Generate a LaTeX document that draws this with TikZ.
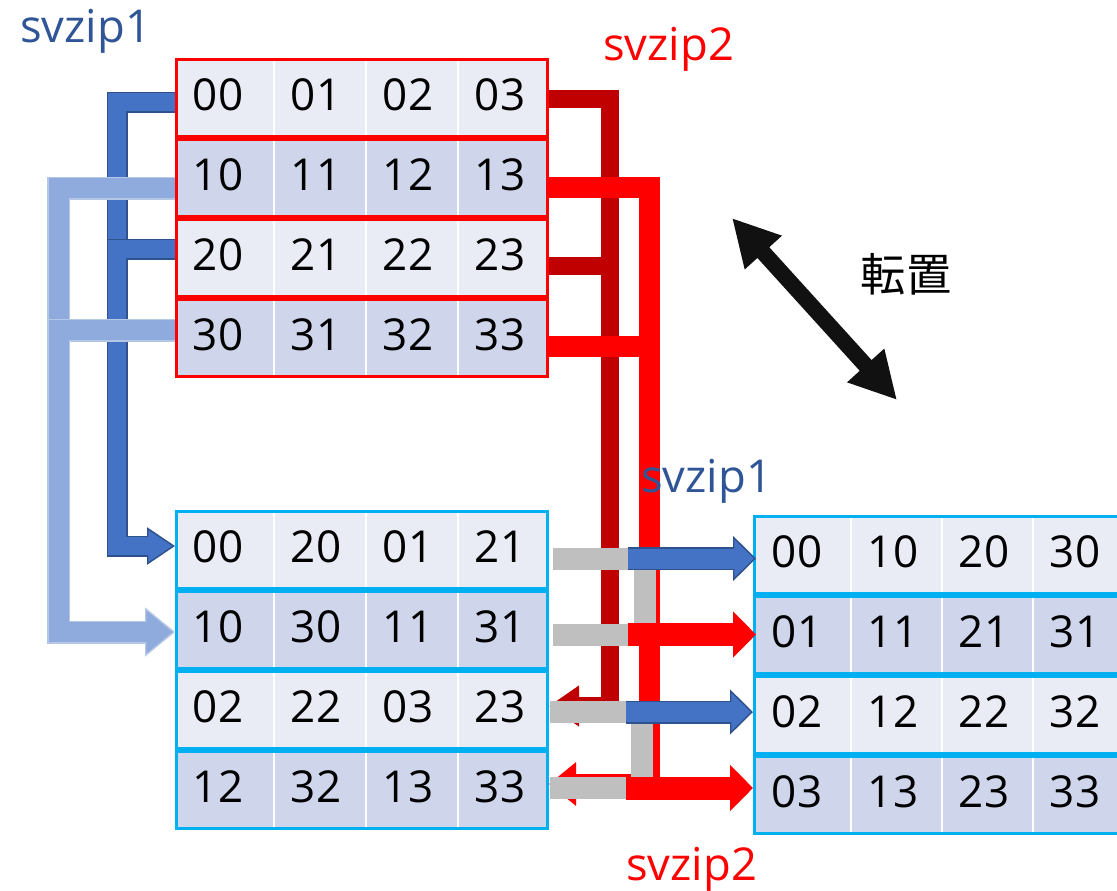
\documentclass[tikz,border=0pt]{standalone}
\usepackage{fontspec}
\setmainfont{Open Sans}
\newfontfamily\jpfont{Noto Sans CJK JP}
\usetikzlibrary{arrows.meta,calc}
\definecolor{cA}{HTML}{E9EBF5}
\definecolor{cB}{HTML}{CFD5EA}
\definecolor{cyanb}{HTML}{00B0F0}
\definecolor{dblue}{HTML}{4472C4}
\definecolor{dblueE}{HTML}{2F528F}
\definecolor{lblue}{HTML}{8FAADC}
\definecolor{lblueE}{HTML}{B4C7E7}
\definecolor{dred}{HTML}{C00000}
\definecolor{gry}{HTML}{BFBFBF}
\definecolor{lbl}{HTML}{2F5597}
\definecolor{blk}{HTML}{111111}
\tikzset{
  rowbox/.style={rectangle, line width=2.25pt, minimum width=278.25pt, minimum height=57.75pt, inner sep=0pt},
  num/.style={inner sep=0pt, font=\fontsize{33pt}{33pt}\selectfont, text=black},
  lab/.style={inner sep=0pt, anchor=base west, font=\fontsize{34pt}{34pt}\selectfont},
  dbOut/.style={draw=dblueE, line width=15.75pt},
  dbIn/.style={draw=dblue, line width=13.5pt},
  lbOut/.style={draw=lblueE, line width=17.25pt},
  lbIn/.style={draw=lblue, line width=15pt},
  drd/.style={draw=dred, line width=13.5pt},
  brd/.style={draw=red, line width=15.75pt},
  grybar/.style={draw=gry, line width=16.5pt},
  raOut/.style={draw=dblueE, line width=17.25pt},
  raIn/.style={draw=dblue, line width=15pt},
  rared/.style={draw=red, line width=17.25pt}
}
\newcommand\LMrow[8]{%
  \foreach \xa/\xb in {176.5/273,275/365,367/457,459/547.5}{\fill[#3] (\xa,#2-38.5) rectangle (\xb,#2+38.5);}
  \node[rowbox,draw=#4] (#1) at (362,#2) {};
  \node[num] (#1a) at (218,#2-3) {#5};
  \node[num] (#1b) at (316,#2-3) {#6};
  \node[num] (#1c) at (408,#2-3) {#7};
  \node[num] (#1d) at (500,#2-3) {#8};
}
\newcommand\RMrow[8]{%
  \foreach \xa/\xb in {754.5/850,852/941,943/1032,1034/1125.5}{\fill[#3] (\xa,#2-38.5) rectangle (\xb,#2+38.5);}
  \node[rowbox,draw=#4] (#1) at (940,#2) {};
  \node[num] (#1a) at (797,#2-3) {#5};
  \node[num] (#1b) at (893,#2-3) {#6};
  \node[num] (#1c) at (984,#2-3) {#7};
  \node[num] (#1d) at (1075,#2-3) {#8};
}
\begin{document}
\begin{tikzpicture}[x=0.75pt,y=-0.75pt]
\useasboundingbox (0,0) rectangle (1117,890);
\clip (0,0) rectangle (1117,890);
% matrices
\LMrow{t0}{98}{cA}{red}{00}{01}{02}{03}
\LMrow{t1}{178}{cB}{red}{10}{11}{12}{13}
\LMrow{t2}{258}{cA}{red}{20}{21}{22}{23}
\LMrow{t3}{338}{cB}{red}{30}{31}{32}{33}
\LMrow{b0}{550}{cA}{cyanb}{00}{20}{01}{21}
\LMrow{b1}{630}{cB}{cyanb}{10}{30}{11}{31}
\LMrow{b2}{710}{cA}{cyanb}{02}{22}{03}{23}
\LMrow{b3}{790}{cB}{cyanb}{12}{32}{13}{33}
\RMrow{r0}{555}{cA}{cyanb}{00}{10}{20}{30}
\RMrow{r1}{635}{cB}{cyanb}{01}{11}{21}{31}
\RMrow{r2}{715}{cA}{cyanb}{02}{12}{22}{32}
\RMrow{r3}{795}{cB}{cyanb}{03}{13}{23}{33}
% dark blue
\draw[dbOut, -{Triangle[length=21pt,width=28pt,line width=1.1pt,fill=dblue]}] ($(t0.west)+(0,4)$) -- ++(-58,0) |- ($(b0.west)+(0,-4)$);
\draw[dbIn, shorten >=19.5pt] ($(t0.west)+(0,4)$) -- ++(-58,0) |- ($(b0.west)+(0,-4)$);
\draw[dbOut] ($(t2.west)+(0,-9)$) -- ++(-58,0) -- ++(0,22);
\draw[dbIn] ($(t2.west)+(0,-9)$) -- ++(-58,0) -- ++(0,22);
% light blue
\draw[lbOut, -{Triangle[length=22.5pt,width=36.75pt,line width=1.1pt,fill=lblue]}] ($(t1.west)+(0,10)$) -- ++(-116.5,0) |- ($(b1.west)+(0,2)$);
\draw[lbIn, shorten >=21pt] ($(t1.west)+(0,10)$) -- ++(-116.5,0) |- ($(b1.west)+(0,2)$);
\draw[lbOut] ($(t3.west)+(0,-8)$) -- ++(-116.5,0) -- ++(0,24);
\draw[lbIn] ($(t3.west)+(0,-8)$) -- ++(-116.5,0) -- ++(0,24);
% dark red
\draw[drd, -{Triangle[length=22.5pt,width=29.25pt]}] ($(t0.east)+(0,1)$) -- ++(61,0) |- ($(b2.east)+(0,-4)$);
\draw[drd] ($(t2.east)+(0,8)$) -- ++(70,0);
% bright red
\draw[brd, -{Triangle[length=20.25pt,width=31.5pt]}] ($(t1.east)+(0,9.5)$) -- ++(100,0) |- ($(b3.east)+(0,-6)$);
\draw[brd] ($(t3.east)+(0,8)$) -- ++(110.5,0);
% gray
\draw[grybar] ($(b0.east)+(4,9)$) -- ++(92,0) |- ($(b1.east)+(4,4.5)$);
\draw[grybar] ($(b2.east)+(1,2)$) -- ++(92,0) |- ($(b3.east)+(1,-2)$);
% right arrows
\coordinate (g0) at ($(b0.east)+(79,8.5)$);
\coordinate (g1) at ($(b1.east)+(79,4.5)$);
\coordinate (g2) at ($(b2.east)+(77,2)$);
\coordinate (g3) at ($(b3.east)+(77,-2)$);
\draw[raOut, -{Triangle[length=17.25pt,width=33.75pt,line width=1.1pt,fill=dblue]}] (g0) -- ($(g0 -| r0.west)+(3,0)$);
\draw[raIn, shorten >=16pt] (g0) -- ($(g0 -| r0.west)+(3,0)$);
\draw[rared, -{Triangle[length=17.25pt,width=33.75pt]}] (g1) -- ($(g1 -| r1.west)+(3,0)$);
\draw[raOut, -{Triangle[length=17.25pt,width=33.75pt,line width=1.1pt,fill=dblue]}] (g2) -- (g2 -| r2.west);
\draw[raIn, shorten >=16pt] (g2) -- (g2 -| r2.west);
\draw[rared, -{Triangle[length=17.25pt,width=33.75pt]}] (g3) -- (g3 -| r3.west);
% transpose arrow
\coordinate (ta) at (732,218);
\coordinate (tb) at (897,400);
\draw[draw=blk, line width=12pt, {Triangle[length=35pt,width=35pt]}-{Triangle[length=35pt,width=35pt]}] (ta) -- (tb);
% labels
\node[lab, text=lbl] (l1) at (20,42) {svzip1};
\node[lab, text=red] (l2) at (603,60) {svzip2};
\node[lab, text=lbl] (l3) at (641,492) {svzip1};
\node[lab, text=red] (l4) at (626,880) {svzip2};
\node[inner sep=0pt, font=\jpfont\fontsize{34pt}{34pt}\selectfont] (tr) at (906,274) {転置};
\end{tikzpicture}
\end{document}
